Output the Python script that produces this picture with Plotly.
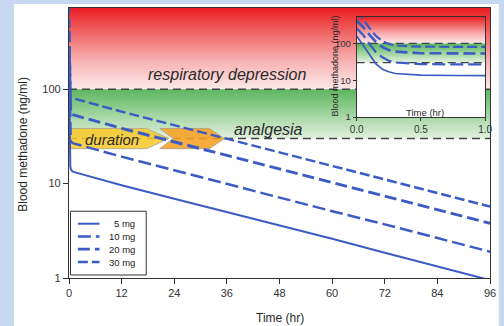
import plotly.graph_objects as go

# ---------------- data ----------------
time_hr = [0, 0.05, 0.1, 0.15, 0.2, 0.25, 0.3, 0.4, 0.5, 0.75, 1,
           12, 24, 36, 48, 60, 72, 84, 96]
dose_labels = ["5 mg", "10 mg", "20 mg", "30 mg"]
conc_5mg = [160, 90, 48, 28, 20, 17, 15.3, 14.2, 13.8, 13.5, 13.3,
            9.6, 6.9, 5.0, 3.6, 2.6, 1.85, 1.33, 0.95]
conc_10mg = [260, 170, 95, 58, 42, 34, 30.5, 28.5, 27.6, 27.1, 26.7,
             19.3, 13.8, 9.9, 7.1, 5.1, 3.7, 2.65, 1.9]
conc_20mg = [420, 280, 170, 110, 80, 66, 60, 56, 54.5, 53.8, 53.3,
             38.5, 27.7, 19.9, 14.3, 10.3, 7.4, 5.3, 3.8]
conc_30mg = [800, 450, 260, 160, 115, 97, 89, 84, 82, 81, 80,
             57.8, 41.5, 29.8, 21.4, 15.4, 11.1, 7.95, 5.7]
analgesia_level = 30          # ng/ml
resp_depression_level = 100   # ng/ml
duration_end_hr = [22.7, 35.4]  # analgesia duration, 20 mg and 30 mg
x_ticks = [0, 12, 24, 36, 48, 60, 72, 84, 96]
y_ticks = [1, 10, 100]
inset_x_ticks = [0.0, 0.5, 1.0]

# ---------------- styling ----------------
FONT = "Arial, Liberation Sans, sans-serif"
BLUE = "#3b5bc5"
dash_styles = ["solid", "13px,5px", "12px,5px", "10px,4px"]
widths = [2, 2.5, 2.9, 2.5]
series = [conc_5mg, conc_10mg, conc_20mg, conc_30mg]

W, H = 504, 326
ML, MR, MT, MB = 69, 7, 7, 48
PW, PH = W - ML - MR, H - MT - MB
def px(x):
    return (x - ML) / PW
def py(y):
    return (H - MB - y) / PH

MAIN_X = [0, 96]
MAIN_YLOG = [0, 2.86]
INSET_X = [0, 1]
INSET_YLOG = [0, 2.72]

red_scale = [[0, "rgb(253,233,233)"], [0.35, "rgb(248,178,178)"],
             [0.68, "rgb(240,105,105)"], [1, "rgb(235,30,36)"]]
green_scale = [[0, "rgb(226,241,223)"], [0.5, "rgb(160,212,158)"],
               [1, "rgb(92,181,94)"]]

fig = go.Figure()

def add_bands(xa, ya, xr, ylog, white_bg):
    top = 10 ** ylog[1]
    bottom = 10 ** ylog[0]
    x0, x1 = xr
    if white_bg:
        fig.add_trace(go.Scatter(x=[x0, x1, x1, x0], y=[bottom, bottom, top, top],
                                 fill="toself", fillcolor="white", mode="lines",
                                 line=dict(width=0), showlegend=False,
                                 hoverinfo="skip", xaxis=xa, yaxis=ya))
    fig.add_trace(go.Scatter(x=[x0, x1, x1, x0],
                             y=[resp_depression_level, resp_depression_level, top, top],
                             fill="toself", mode="lines", line=dict(width=0),
                             fillgradient=dict(type="vertical", colorscale=red_scale),
                             showlegend=False, hoverinfo="skip", xaxis=xa, yaxis=ya))
    fig.add_trace(go.Scatter(x=[x0, x1, x1, x0],
                             y=[analgesia_level, analgesia_level,
                                resp_depression_level, resp_depression_level],
                             fill="toself", mode="lines", line=dict(width=0),
                             fillgradient=dict(type="vertical", colorscale=green_scale),
                             showlegend=False, hoverinfo="skip", xaxis=xa, yaxis=ya))

def add_thresholds(xa, ya, xr, w):
    for lvl in (resp_depression_level, analgesia_level):
        fig.add_trace(go.Scatter(x=list(xr), y=[lvl, lvl], mode="lines",
                                 line=dict(color="#444444", width=w, dash="8px,5px"),
                                 showlegend=False, hoverinfo="skip",
                                 xaxis=xa, yaxis=ya))

# main background bands and threshold lines
add_bands("x", "y", MAIN_X, MAIN_YLOG, False)
add_thresholds("x", "y", MAIN_X, 1.6)

# duration arrows (semi-transparent, over the analgesia line)
f = 1.28
lo, mid, hi = analgesia_level / f, analgesia_level, analgesia_level * f
t1, t2 = duration_end_hr
fig.add_trace(go.Scatter(
    x=[0, t1 - 5.0, t1, t1 - 5.0, 0, 0],
    y=[lo, lo, mid, hi, hi, lo],
    fill="toself", fillcolor="rgba(248,200,40,0.85)", mode="lines",
    line=dict(color="#b8ad8c", width=1), showlegend=False, hoverinfo="skip"))
fig.add_trace(go.Scatter(
    x=[t1 - 2.0, t2 - 3.4, t2, t2 - 3.4, t1 - 2.0, t1 + 1.1, t1 - 2.0],
    y=[lo, lo, mid, hi, hi, mid, lo],
    fill="toself", fillcolor="rgba(247,160,35,0.88)", mode="lines",
    line=dict(color="#b8a282", width=1), showlegend=False, hoverinfo="skip"))

# main series
for lab, ys, d, w in zip(dose_labels, series, dash_styles, widths):
    fig.add_trace(go.Scatter(x=time_hr, y=ys, name=lab, mode="lines",
                             line=dict(color=BLUE, width=w, dash=d),
                             showlegend=False))

# inset
add_bands("x2", "y2", INSET_X, INSET_YLOG, True)
add_thresholds("x2", "y2", INSET_X, 1.3)
for lab, ys, d, w in zip(dose_labels, series, dash_styles, widths):
    fig.add_trace(go.Scatter(x=time_hr, y=ys, name=lab, mode="lines",
                             line=dict(color=BLUE, width=w - 0.3, dash=d),
                             showlegend=False, xaxis="x2", yaxis="y2"))

axis_common = dict(showline=True, mirror=True, linecolor="#333333", showgrid=False,
                   zeroline=False, ticks="outside", tickcolor="#333333")

# compact legend (box, line samples, labels)
LEG_L, LEG_R, LEG_T, LEG_B = 70.5, 147.5, 211, 275
legend_rows = [223.5, 236.3, 249, 262]
shapes = [dict(type="rect", xref="paper", yref="paper",
               x0=px(13), x1=px(W + 2), y0=py(H + 2), y1=py(3),
               fillcolor="white", line=dict(width=0), layer="below"),
          dict(type="rect", xref="paper", yref="paper",
               x0=px(LEG_L), x1=px(LEG_R), y0=py(LEG_B), y1=py(LEG_T),
               fillcolor="white", line=dict(color="#333333", width=1), layer="above")]
for lab, d, w, yy in zip(dose_labels, dash_styles, widths, legend_rows):
    shapes.append(dict(type="line", xref="paper", yref="paper",
                       x0=px(78), x1=px(100), y0=py(yy), y1=py(yy),
                       line=dict(color=BLUE, width=w, dash=d), layer="above"))

fig.update_layout(
    width=W, height=H,
    margin=dict(l=ML, r=MR, t=MT, b=MB),
    paper_bgcolor="#c6d9f1",
    plot_bgcolor="rgba(0,0,0,0)",
    font=dict(family=FONT, color="#333333"),
    xaxis=dict(range=MAIN_X, tickvals=x_ticks, ticklen=5, linewidth=1.2,
               tickfont=dict(size=11), domain=[0, 1], **axis_common),
    yaxis=dict(type="log", range=MAIN_YLOG, tickvals=y_ticks,
               ticktext=[str(v) for v in y_ticks], ticklen=5, linewidth=1.2,
               tickfont=dict(size=11), domain=[0, 1], **axis_common),
    xaxis2=dict(range=INSET_X, tickvals=inset_x_ticks,
                ticktext=["%.1f" % v for v in inset_x_ticks], ticklen=3,
                linewidth=1, tickfont=dict(size=10), anchor="y2",
                domain=[px(361.5), px(492)], **axis_common),
    yaxis2=dict(type="log", range=INSET_YLOG, tickvals=y_ticks,
                ticktext=[str(v) for v in y_ticks], ticklen=3, linewidth=1,
                tickfont=dict(size=9.5), anchor="x2",
                domain=[py(116.5), py(16)], **axis_common),
    showlegend=False,
    shapes=shapes,
)

for lab, yy in zip(dose_labels, legend_rows):
    fig.add_annotation(text=lab, x=px(138), y=py(yy), xref="paper", yref="paper",
                       showarrow=False, xanchor="right", yanchor="middle",
                       font=dict(size=9.5, color="#222222", family=FONT))

ann = [
    dict(text="respiratory depression", x=px(230), y=py(74), size=16, italic=True),
    dict(text="analgesia", x=px(272), y=py(129), size=16, italic=True),
    dict(text="duration", x=px(112.5), y=py(139), size=15, italic=True),
    dict(text="Time (hr)", x=px(283), y=py(318), size=12, italic=False),
    dict(text="Time (hr)", x=px(431), y=py(111.5), size=9.5, italic=False),
]
for a in ann:
    fig.add_annotation(text=a["text"], x=a["x"], y=a["y"], xref="paper", yref="paper",
                       showarrow=False, xanchor="center", yanchor="middle",
                       font=dict(size=a["size"], color="#2a2a2a", family=FONT,
                                 style="italic" if a["italic"] else "normal"))
fig.add_annotation(text="Blood methadone (ng/ml)", x=px(22.5), y=py(144),
                   xref="paper", yref="paper", showarrow=False, textangle=-90,
                   xanchor="center", yanchor="middle",
                   font=dict(size=12, color="#2a2a2a", family=FONT))
fig.add_annotation(text="Blood methadone (ng/ml)", x=px(339.7), y=py(65.5),
                   xref="paper", yref="paper", showarrow=False, textangle=-90,
                   xanchor="center", yanchor="middle",
                   font=dict(size=9, color="#2a2a2a", family=FONT))

fig.write_html("out.html", config={"displayModeBar": False},
               post_script="document.body.style.margin='0';"
                           "document.body.style.overflow='hidden';")
